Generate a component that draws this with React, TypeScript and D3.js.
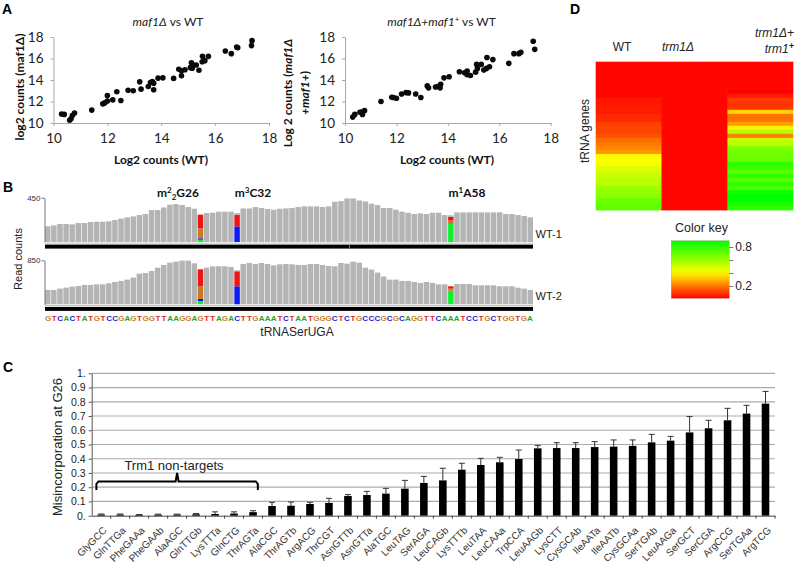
import * as React from 'react';
import { useEffect, useRef } from 'react';
import * as d3 from 'd3';

// panel A, log2 counts
const wtA = [10.3, 10.4, 10.6, 10.65, 10.7, 10.78, 11.42, 11.83, 11.9, 12, 12, 12.2, 12.35, 12.5, 12.77, 12.96, 13.2, 13.25, 13.52, 13.6, 13.67, 13.72, 13.72, 13.88, 14.06, 14.46, 14.65, 14.75, 14.75, 14.88, 15.08, 15.12, 15.18, 15.15, 15.3, 15.4, 15.52, 15.53, 15.62, 15.75, 16.38, 16.6, 16.8, 16.84, 17.35, 17.37];
const maf1 = [10.84, 10.8, 10.25, 10.4, 10.7, 10.93, 11.2, 11.78, 11.87, 12.05, 12.55, 12.15, 12.9, 12.1, 13.05, 13, 13.83, 13.15, 13.4, 13.77, 13.85, 13.7, 13.1, 14.17, 14.2, 14.15, 15, 14.4, 14.85, 14.95, 15.15, 15.6, 15.4, 15.1, 15.4, 14.9, 15.7, 16.2, 15.8, 16.2, 16.7, 16.45, 17.07, 17, 17.2, 17.66];
const wtB = [10.3, 10.38, 10.58, 10.68, 10.65, 10.76, 11.4, 11.82, 11.88, 12, 12.2, 12.37, 12.47, 12.75, 12.95, 13.2, 13.25, 13.52, 13.6, 13.7, 13.72, 13.85, 14.05, 14.45, 14.65, 14.75, 14.75, 14.88, 15.08, 15.12, 15.15, 15.3, 15.4, 15.5, 15.52, 15.62, 15.75, 16.37, 16.57, 16.76, 16.84, 17.32, 17.38];
const rescue = [10.55, 10.8, 11, 10.8, 11.02, 11.15, 12, 12.4, 12.37, 12.3, 12.7, 12.83, 12.8, 12.7, 12.37, 13.45, 13.27, 13.35, 13.4, 13.27, 13.6, 14.2, 14.3, 14.77, 14.67, 14.83, 14.5, 14.42, 14.73, 15.45, 15.08, 15.45, 14.92, 15.08, 16.1, 15.23, 15.9, 15.55, 16.45, 16.45, 16.57, 17.6, 16.85];
const axisTicksA = [10, 12, 14, 16, 18];

// panel B, read coverage per base
const sequence = 'GTCACTATGTCCGAGTGGTTAAGGAGTTAGACTTGAAATCTAATGGGCTCTGCCCGCGCAGGTTCAAATCCTGCTGGTGA'.split('');
const cover1 = [159, 169, 183, 183, 179, 193, 193, 203, 206, 206, 210, 223, 237, 250, 260, 274, 284, 324, 324, 351, 379, 385, 375, 355, 338, 0, 294, 297, 308, 308, 308, 0, 341, 341, 355, 345, 335, 328, 338, 341, 345, 355, 362, 362, 362, 355, 362, 409, 416, 443, 443, 422, 412, 389, 375, 345, 345, 328, 308, 297, 284, 291, 284, 297, 297, 274, 0, 301, 301, 301, 301, 301, 301, 301, 301, 284, 284, 274, 264, 250];
const cover2 = [277, 277, 303, 322, 341, 354, 374, 374, 386, 386, 406, 431, 451, 477, 515, 592, 605, 644, 708, 760, 805, 824, 844, 844, 792, 0, 708, 734, 734, 734, 721, 0, 779, 799, 779, 799, 779, 753, 773, 779, 773, 760, 760, 779, 779, 760, 741, 734, 799, 786, 824, 805, 708, 670, 612, 535, 477, 477, 451, 451, 431, 412, 431, 412, 386, 386, 0, 393, 393, 393, 367, 367, 367, 367, 348, 348, 348, 322, 303, 277];
const modKeys = ['A', 'C', 'G', 'T', 'ref'];
const modSites1 = [
  { pos: 25, A: 24, C: 14, G: 101, T: 139, ref: 0 },
  { pos: 31, A: 0, C: 159, G: 0, T: 118, ref: 17 },
  { pos: 66, A: 183, C: 0, G: 34, T: 37, ref: 17 },
];
const modSites2 = [
  { pos: 25, A: 64, C: 39, G: 245, T: 328, ref: 0 },
  { pos: 31, A: 0, C: 348, G: 0, T: 290, ref: 19 },
  { pos: 66, A: 264, C: 0, G: 39, T: 45, ref: 0 },
];
const baseColors: Record<string, string> = { A: '#1fa52a', C: '#1a22d6', G: '#c9822c', T: '#dc2a2e' };
const modColors: Record<string, string> = { A: '#0cf02c', C: '#0a1cf0', G: '#c97a1e', T: '#f01414', ref: '#b4b4b4' };

// panel C
const trnaNames = ['GlyGCC', 'GlnTTGa', 'PheGAAa', 'PheGAAb', 'AlaAGC', 'GlnTTGb', 'LysTTTa', 'GlnCTG', 'ThrAGTa', 'AlaCGC', 'ThrAGTb', 'ArgACG', 'ThrCGT', 'AsnGTTb', 'AsnGTTa', 'AlaTGC', 'LeuTAG', 'SerAGA', 'LeuCAGb', 'LysTTTb', 'LeuTAA', 'LeuCAAa', 'TrpCCA', 'LeuAAGb', 'LysCTT', 'CysGCAb', 'IleAATa', 'IleAATb', 'CysGCAa', 'SerTGAb', 'LeuAAGa', 'SerGCT', 'SerCGA', 'ArgCCG', 'SerTGAa', 'ArgTCG'];
const misinc = [0.008, 0.008, 0.006, 0.008, 0.008, 0.01, 0.012, 0.015, 0.025, 0.068, 0.07, 0.082, 0.09, 0.138, 0.145, 0.155, 0.19, 0.23, 0.248, 0.323, 0.356, 0.375, 0.398, 0.473, 0.475, 0.475, 0.482, 0.485, 0.49, 0.515, 0.527, 0.585, 0.614, 0.67, 0.717, 0.787];
const misincErr = [0.004, 0.004, 0.002, 0.003, 0.003, 0.005, 0.015, 0.012, 0.01, 0.026, 0.026, 0.012, 0.032, 0.01, 0.026, 0.037, 0.058, 0.046, 0.085, 0.045, 0.047, 0.035, 0.063, 0.021, 0.038, 0.038, 0.038, 0.047, 0.042, 0.056, 0.03, 0.111, 0.056, 0.084, 0.058, 0.086];
const misincTicks = [0, 0.1, 0.2, 0.3, 0.4, 0.5, 0.6, 0.7, 0.8, 0.9, 1];

// panel D, 37 tRNA genes by 3 strains
const heatWT = [0.01, 0.01, 0.01, 0.01, 0.01, 0.01, 0.01, 0.01, 0.01, 0.04, 0.04, 0.05, 0.05, 0.07, 0.07, 0.11, 0.12, 0.12, 0.14, 0.19, 0.21, 0.24, 0.26, 0.44, 0.45, 0.47, 0.52, 0.54, 0.57, 0.6, 0.6, 0.66, 0.68, 0.7, 0.76, 0.78, 0.8];
const heatTrm1 = [0.01, 0.01, 0.01, 0.01, 0.01, 0.01, 0.01, 0.01, 0.01, 0.01, 0.01, 0.01, 0.01, 0.01, 0.01, 0.01, 0.01, 0.01, 0.01, 0.01, 0.01, 0.01, 0.01, 0.01, 0.01, 0.01, 0.01, 0.01, 0.01, 0.01, 0.01, 0.01, 0.01, 0.01, 0.01, 0.01, 0.01];
const heatRescue = [0.01, 0.01, 0.01, 0.01, 0.01, 0.01, 0.01, 0.0, 0.05, 0.1, 0.09, 0.1, 0.38, 0.2, 0.2, 0.28, 0.42, 0.62, 0.22, 0.58, 0.6, 0.72, 0.75, 0.76, 0.78, 0.9, 0.88, 0.8, 0.9, 0.82, 0.9, 0.84, 0.97, 1, 1, 0.95, 0.9];
const heatColumns = [heatWT, heatTrm1, heatRescue];

const ARIAL = '"Liberation Sans", Arial, sans-serif';
const CALIBRI = 'Lato, "Open Sans", sans-serif';

function drawScatter(svg: any, xs: number[], ys: number[], left: number, right: number) {
  const x = d3.scaleLinear().domain([10, 18]).range([left, right]);
  const y = d3.scaleLinear().domain([10, 18]).range([123, 37]);
  const g = svg.append('g').attr('font-family', CALIBRI);

  const xAxis = g.append('g').attr('transform', 'translate(0,123)')
    .call(d3.axisBottom(x).tickValues(axisTicksA).tickSize(3).tickSizeOuter(0));
  const yAxis = g.append('g').attr('transform', `translate(${left},0)`)
    .call(d3.axisLeft(y).tickValues(axisTicksA).tickSize(3).tickSizeOuter(0));
  [xAxis, yAxis].forEach(a => {
    a.selectAll('path,line').attr('stroke', '#a8a8a8');
    a.selectAll('text').attr('font-size', 13.5).attr('font-family', CALIBRI).attr('fill', '#222');
  });
  xAxis.selectAll('text').attr('dy', '1.05em');
  yAxis.selectAll('text').attr('x', -10);

  g.append('g').selectAll('circle')
    .data(xs)
    .enter().append('circle')
    .attr('cx', (d: number) => x(d))
    .attr('cy', (d: number, i: number) => y(ys[i]))
    .attr('r', 2.8)
    .attr('fill', '#0a0a0a');
}

function drawTrack(svg: any, cover: number[], mods: any[], maxCount: number, base: number, top: number, label: string) {
  const x = d3.scaleBand<number>().domain(d3.range(cover.length)).range([45, 533]).paddingInner(0.1);
  const y = d3.scaleLinear().domain([0, maxCount]).range([base, top]);
  const g = svg.append('g');

  g.append('g').selectAll('rect')
    .data(cover)
    .enter().append('rect')
    .attr('x', (d: number, i: number) => x(i))
    .attr('y', (d: number) => y(d))
    .attr('width', x.bandwidth())
    .attr('height', (d: number) => base - y(d))
    .attr('fill', '#b4b4b4');

  const layers = d3.stack().keys(modKeys)(mods);
  layers.forEach((layer: any) => {
    g.append('g').selectAll('rect')
      .data(layer)
      .enter().append('rect')
      .attr('x', (d: any) => x(d.data.pos))
      .attr('y', (d: any) => y(d[1]))
      .attr('width', x.bandwidth())
      .attr('height', (d: any) => y(d[0]) - y(d[1]))
      .attr('fill', modColors[layer.key]);
  });

  // left scale, only the maximum is labelled
  const axis = g.append('g').attr('transform', 'translate(44.5,0)')
    .call(d3.axisLeft(y).tickValues([maxCount]).tickSize(3).tickSizeOuter(0));
  axis.selectAll('path,line').attr('stroke', '#777');
  axis.selectAll('text').attr('font-size', 8).attr('font-family', ARIAL).attr('fill', '#333').attr('x', -4);

  g.append('line').attr('x1', 45).attr('x2', 533).attr('y1', base + 1.2).attr('y2', base + 1.2)
    .attr('stroke', '#c4c4c4').attr('stroke-width', 1);
  g.append('rect').attr('x', 45).attr('y', base + 2.6).attr('width', 488).attr('height', 4).attr('fill', '#000');

  g.append('text').attr('x', 535.5).attr('y', base - 4).attr('font-family', ARIAL).attr('font-size', 11).attr('fill', '#222').text(label);
}

function supLabel(svg: any, cx: number, lead: string, sup: string, sub: string, rest: string) {
  const t = svg.append('text').attr('x', cx).attr('y', 197).attr('text-anchor', 'middle')
    .attr('font-family', CALIBRI).attr('font-weight', 700).attr('font-size', 12).attr('fill', '#111');
  t.append('tspan').text(lead);
  t.append('tspan').attr('dy', -4).attr('font-size', 8).text(sup);
  if (sub) {
    t.append('tspan').attr('dy', 7).attr('font-size', 8).text(sub);
    t.append('tspan').attr('dy', -3).text(rest);
  } else {
    t.append('tspan').attr('dy', 4).text(rest);
  }
}

export default function App() {
  const ref = useRef<SVGSVGElement>(null);

  useEffect(() => {
    const svg = d3.select(ref.current);
    svg.selectAll('*').remove();

    const panel = (s: string, px: number, py: number) =>
      svg.append('text').attr('x', px).attr('y', py).attr('font-family', ARIAL)
        .attr('font-weight', 700).attr('font-size', 14).attr('fill', '#000').text(s);
    panel('A', 2, 14);
    panel('B', 3, 192);
    panel('C', 3, 372);
    panel('D', 570, 14);

    // A
    drawScatter(svg, wtA, maf1, 53.5, 269);
    drawScatter(svg, wtB, rescue, 345, 550.7);

    const boldCal = (x: number, y: number, s: string) =>
      svg.append('text').attr('x', x).attr('y', y).attr('text-anchor', 'middle')
        .attr('font-family', CALIBRI).attr('font-weight', 700).attr('font-size', 12).attr('fill', '#111').text(s);
    boldCal(161, 164, 'Log2 counts (WT)');
    boldCal(447, 164, 'Log2 counts (WT)');
    boldCal(0, 0, 'log2 counts (maf1Δ)').attr('transform', 'translate(24,87) rotate(-90)').attr('x', 0).attr('y', 0);

    const y2 = svg.append('text').attr('transform', 'translate(292,93) rotate(-90)').attr('text-anchor', 'middle')
      .attr('font-family', CALIBRI).attr('font-weight', 700).attr('font-size', 12).attr('fill', '#111');
    y2.append('tspan').text('Log 2 counts (');
    y2.append('tspan').attr('font-style', 'italic').text('maf1Δ');
    const y3 = svg.append('text').attr('transform', 'translate(309,93) rotate(-90)').attr('text-anchor', 'middle')
      .attr('font-family', CALIBRI).attr('font-weight', 700).attr('font-size', 12).attr('fill', '#111');
    y3.append('tspan').attr('font-style', 'italic').text('+maf1+');
    y3.append('tspan').text(')');

    const t1 = svg.append('text').attr('x', 168).attr('y', 26).attr('text-anchor', 'middle')
      .attr('font-family', CALIBRI).attr('font-size', 12).attr('fill', '#222');
    t1.append('tspan').attr('font-style', 'italic').text('maf1Δ');
    t1.append('tspan').text(' vs WT');
    const t2 = svg.append('text').attr('x', 441.5).attr('y', 26).attr('text-anchor', 'middle')
      .attr('font-family', CALIBRI).attr('font-size', 12).attr('fill', '#222');
    t2.append('tspan').attr('font-style', 'italic').text('maf1Δ+maf1');
    t2.append('tspan').attr('dy', -4).attr('font-size', 8).text('+');
    t2.append('tspan').attr('dy', 4).text(' vs WT');

    // B
    drawTrack(svg, cover1, modSites1, 450, 242, 197.7, 'WT-1');
    drawTrack(svg, cover2, modSites2, 850, 304.3, 260.3, 'WT-2');
    svg.append('line').attr('x1', 349.5).attr('x2', 349.5).attr('y1', 244.6).attr('y2', 248.6)
      .attr('stroke', '#999').attr('stroke-width', 0.8);
    svg.append('text').attr('transform', 'translate(22,259) rotate(-90)').attr('text-anchor', 'middle')
      .attr('font-family', ARIAL).attr('font-size', 11).attr('fill', '#222').text('Read counts');
    supLabel(svg, 178, 'm', '2', '2', 'G26');
    supLabel(svg, 253, 'm', '3', '', 'C32');
    supLabel(svg, 467, 'm', '1', '', 'A58');

    const seqX = d3.scaleBand<number>().domain(d3.range(sequence.length)).range([45, 533]);
    svg.append('g').selectAll('text')
      .data(sequence)
      .enter().append('text')
      .attr('x', (d, i) => (seqX(i) as number) + seqX.bandwidth() / 2)
      .attr('y', 320.5)
      .attr('text-anchor', 'middle')
      .attr('font-family', ARIAL)
      .attr('font-weight', 700)
      .attr('font-size', 8)
      .attr('fill', d => baseColors[d])
      .text(d => d);
    svg.append('text').attr('x', 297).attr('y', 336).attr('text-anchor', 'middle')
      .attr('font-family', ARIAL).attr('font-size', 12).attr('fill', '#222').text('tRNASerUGA');

    // C
    const xC = d3.scaleBand<string>().domain(trnaNames).range([91.7, 775]).paddingInner(0.6).paddingOuter(0.3);
    const yC = d3.scaleLinear().domain([0, 1]).range([515.7, 373.3]);
    const gC = svg.append('g');
    gC.append('g').selectAll('line')
      .data(misincTicks.slice(1))
      .enter().append('line')
      .attr('x1', 91.7).attr('x2', 775)
      .attr('y1', d => yC(d)).attr('y2', d => yC(d))
      .attr('stroke', '#ababab').attr('stroke-width', 1.2);
    gC.append('g').selectAll('rect')
      .data(misinc)
      .enter().append('rect')
      .attr('x', (d, i) => xC(trnaNames[i]) as number)
      .attr('y', d => yC(d))
      .attr('width', xC.bandwidth())
      .attr('height', d => 515.7 - yC(d))
      .attr('fill', '#000');
    const err = gC.append('g').attr('stroke', '#333').attr('stroke-width', 1).selectAll('g')
      .data(misinc)
      .enter().append('g')
      .attr('transform', (d, i) => `translate(${(xC(trnaNames[i]) as number) + xC.bandwidth() / 2},0)`);
    err.append('line').attr('y1', d => yC(d)).attr('y2', (d, i) => yC(d + misincErr[i]));
    err.append('line').attr('x1', -3).attr('x2', 3)
      .attr('y1', (d, i) => yC(d + misincErr[i])).attr('y2', (d, i) => yC(d + misincErr[i]));

    const yAxisC = gC.append('g').attr('transform', 'translate(91.7,0)')
      .call(d3.axisLeft(yC).tickValues(misincTicks).tickSize(3).tickSizeOuter(0)
        .tickFormat(d => (+d === 0 ? '0.' : +d === 1 ? '1.' : d3.format('.1f')(+d))));
    yAxisC.selectAll('path,line').attr('stroke', '#555');
    yAxisC.selectAll('text').attr('font-size', 10.5).attr('font-family', ARIAL).attr('fill', '#222').attr('x', -6);

    const xAxisC = gC.append('g').attr('transform', 'translate(0,515.7)')
      .call(d3.axisBottom(xC).tickSize(3).tickSizeOuter(0));
    xAxisC.selectAll('path,line').attr('stroke', '#444');
    xAxisC.selectAll('line').attr('transform', `translate(${(683.3 / 36) / 2},0)`);
    xAxisC.selectAll('text')
      .attr('font-size', 10).attr('font-family', ARIAL).attr('fill', '#333')
      .attr('text-anchor', 'end')
      .attr('transform', 'translate(4,13) rotate(-45)')
      .attr('y', 0).attr('dy', '0.32em');

    svg.append('text').attr('transform', 'translate(62,447) rotate(-90)').attr('text-anchor', 'middle')
      .attr('font-family', ARIAL).attr('font-size', 13).attr('fill', '#222').text('Misincorporation at G26');
    svg.append('text').attr('x', 174).attr('y', 470).attr('text-anchor', 'middle')
      .attr('font-family', ARIAL).attr('font-size', 13).attr('fill', '#222').text('Trm1 non-targets');

    // brace over the non-targets
    const braceL = xC('GlyGCC') as number;
    const braceR = (xC('ThrAGTa') as number) + xC.bandwidth();
    const braceMid = (braceL + braceR) / 2;
    const braceLine = d3.line().curve(d3.curveLinear);
    svg.append('path')
      .attr('d', braceLine([[braceL - 1, 490], [braceL - 1, 484], [braceL + 1, 481.5], [braceMid - 1.5, 481.5], [braceMid, 473], [braceMid + 1.5, 481.5], [braceR - 1, 481.5], [braceR + 1, 484], [braceR + 1, 490]]))
      .attr('fill', 'none').attr('stroke', '#000').attr('stroke-width', 2);

    // D
    const heatColor = d3.scaleLinear<string>().domain([0, 0.45, 1]).range(['#ff0000', '#ffff00', '#00ff00']);
    const xD = d3.scaleBand<number>().domain([0, 1, 2]).range([595.7, 793.3]);
    const yD = d3.scaleBand<number>().domain(d3.range(heatWT.length)).range([61.7, 210]);
    heatColumns.forEach((col, c) => {
      svg.append('g').selectAll('rect')
        .data(col)
        .enter().append('rect')
        .attr('x', xD(c) as number)
        .attr('y', (d, i) => yD(i) as number)
        .attr('width', xD.bandwidth() + (c < 2 ? 0.5 : 0))
        .attr('height', yD.bandwidth() + 0.4)
        .attr('fill', d => heatColor(d));
    });
    const textD = (x: number, y: number, s: string, italic = false, anchor = 'middle', size = 12) =>
      svg.append('text').attr('x', x).attr('y', y).attr('text-anchor', anchor)
        .attr('font-family', ARIAL).attr('font-size', size).attr('fill', '#222')
        .attr('font-style', italic ? 'italic' : 'normal').text(s);
    textD(622, 51, 'WT');
    textD(678, 51, 'trm1Δ', true);
    textD(794, 37, 'trm1Δ+', true, 'end');
    const rescueLabel = textD(794, 53, 'trm1', true, 'end');
    rescueLabel.append('tspan').attr('dy', -4).attr('font-size', 9).attr('font-weight', 700).text('+');
    svg.append('text').attr('transform', 'translate(589,131) rotate(-90)').attr('text-anchor', 'middle')
      .attr('font-family', ARIAL).attr('font-size', 12).attr('fill', '#222').text('tRNA genes');
    textD(701.5, 232, 'Color key', false, 'middle', 12.5);

    // colour key
    const defs = svg.append('defs');
    const grad = defs.append('linearGradient').attr('id', 'keyGrad').attr('x1', 0).attr('x2', 0).attr('y1', 1).attr('y2', 0);
    d3.range(0, 1.01, 0.1).forEach(v => {
      grad.append('stop').attr('offset', v).attr('stop-color', heatColor(v));
    });
    const yKey = d3.scaleLinear().domain([0.2, 0.8]).range([286, 247]);
    svg.append('rect').attr('x', 671.3).attr('y', 240.7).attr('width', 58).attr('height', 57.6)
      .attr('fill', 'url(#keyGrad)').attr('stroke', '#a05050').attr('stroke-opacity', 0.4).attr('stroke-width', 0.5);
    const keyAxis = svg.append('g').attr('transform', 'translate(729.3,0)')
      .call(d3.axisRight(yKey).tickValues([0.2, 0.4, 0.6, 0.8]).tickSize(4).tickFormat(d => (+d === 0.2 || +d === 0.8 ? String(d) : '')));
    keyAxis.select('path').remove();
    keyAxis.selectAll('line').attr('stroke', '#777');
    keyAxis.selectAll('text').attr('font-size', 12).attr('font-family', ARIAL).attr('fill', '#222').attr('x', 6);
  }, []);

  return <svg ref={ref} width={797} height={563} style={{ position: 'absolute', left: 0, top: 0, background: '#fff' }} />;
}
